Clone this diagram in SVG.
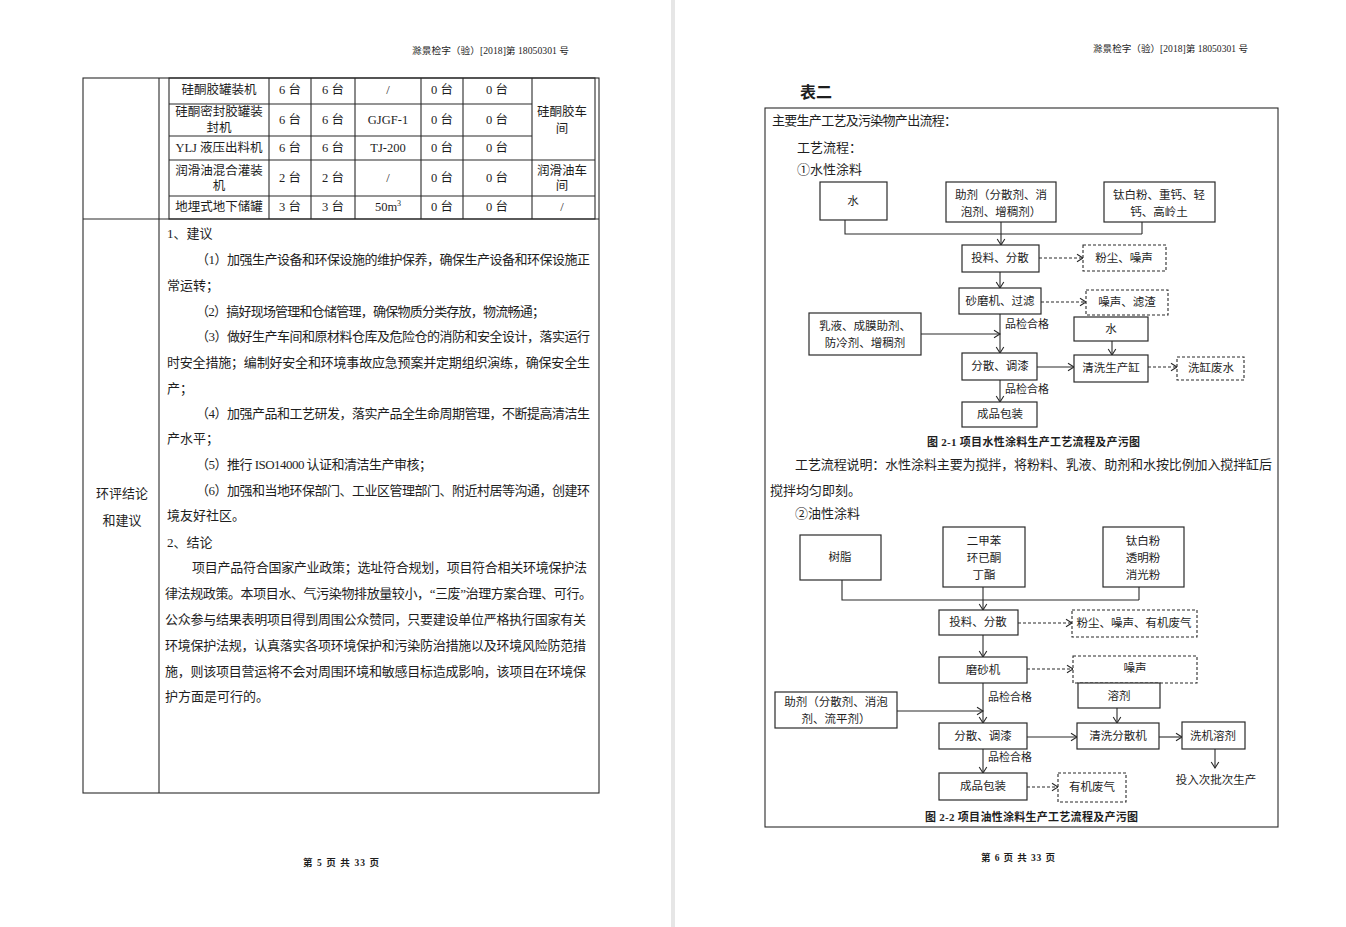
<svg xmlns="http://www.w3.org/2000/svg" width="1346" height="927" viewBox="0 0 1346 927">
<defs>
<style>
text{font-family:"Liberation Serif","Noto Sans CJK SC",serif;fill:#1e1e1e;dominant-baseline:central}
.b13{font-size:13px}
.t12{font-size:12.5px;text-anchor:middle}
.hd{font-size:9.5px}
.f{font-size:11.5px;text-anchor:middle}
.q{font-size:11px}
.cap{font-size:11px;font-weight:bold}
.ln{stroke:#2a2a2a;stroke-width:1.1;fill:none}
.box{stroke:#2a2a2a;stroke-width:1.2;fill:#fff}
.dbox{stroke:#2a2a2a;stroke-width:1.1;fill:#fff;stroke-dasharray:3,2}
.c{stroke:#2a2a2a;stroke-width:1.1;fill:none;marker-end:url(#ah)}
.d{stroke:#2a2a2a;stroke-width:1.1;fill:none;stroke-dasharray:3,2;marker-end:url(#ah)}
</style>
<marker id="ah" markerUnits="userSpaceOnUse" markerWidth="10" markerHeight="10" refX="7" refY="5" orient="auto" overflow="visible">
<path d="M1,1.2 L7,5 L1,8.8" fill="none" stroke="#2a2a2a" stroke-width="1.1"/>
</marker>
</defs>
<rect x="0" y="0" width="1346" height="927" fill="#fff"/>
<rect x="671" y="0" width="4" height="927" fill="#e6e6e6"/>

<g id="page5">
<text class="hd" x="412" y="51" textLength="157" lengthAdjust="spacingAndGlyphs">滁景检字（验）[2018]第 18050301 号</text>
<g id="table5" class="ln">
<rect x="83" y="78" width="516" height="715"/>
<line x1="159" y1="78" x2="159" y2="793"/>
<line x1="83" y1="219" x2="599" y2="219"/>
<rect x="169" y="78" width="426" height="141"/>
<line x1="269" y1="78" x2="269" y2="219"/>
<line x1="311" y1="78" x2="311" y2="219"/>
<line x1="355" y1="78" x2="355" y2="219"/>
<line x1="421" y1="78" x2="421" y2="219"/>
<line x1="463" y1="78" x2="463" y2="219"/>
<line x1="532" y1="78" x2="532" y2="219"/>
<line x1="169" y1="104" x2="532" y2="104"/>
<line x1="169" y1="136" x2="532" y2="136"/>
<line x1="169" y1="160" x2="595" y2="160"/>
<line x1="169" y1="196" x2="595" y2="196"/>
</g>
<g id="table5text">
<text class="t12" x="219" y="90">硅酮胶罐装机</text>
<text class="t12" x="290" y="90">6 台</text><text class="t12" x="333" y="90">6 台</text><text class="t12" x="388" y="90">/</text><text class="t12" x="442" y="90">0 台</text><text class="t12" x="497" y="90">0 台</text>
<text class="t12" x="219" y="112">硅酮密封胶罐装</text><text class="t12" x="219" y="128">封机</text>
<text class="t12" x="290" y="120">6 台</text><text class="t12" x="333" y="120">6 台</text><text class="t12" x="388" y="120">GJGF-1</text><text class="t12" x="442" y="120">0 台</text><text class="t12" x="497" y="120">0 台</text>
<text class="t12" x="562" y="112">硅酮胶车</text><text class="t12" x="562" y="129">间</text>
<text class="t12" x="219" y="148">YLJ 液压出料机</text>
<text class="t12" x="290" y="148">6 台</text><text class="t12" x="333" y="148">6 台</text><text class="t12" x="388" y="148">TJ-200</text><text class="t12" x="442" y="148">0 台</text><text class="t12" x="497" y="148">0 台</text>
<text class="t12" x="219" y="171">润滑油混合灌装</text><text class="t12" x="219" y="186">机</text>
<text class="t12" x="290" y="178">2 台</text><text class="t12" x="333" y="178">2 台</text><text class="t12" x="388" y="178">/</text><text class="t12" x="442" y="178">0 台</text><text class="t12" x="497" y="178">0 台</text>
<text class="t12" x="562" y="171">润滑油车</text><text class="t12" x="562" y="186">间</text>
<text class="t12" x="219" y="207">地埋式地下储罐</text>
<text class="t12" x="290" y="207">3 台</text><text class="t12" x="333" y="207">3 台</text><text class="t12" x="388" y="207">50m<tspan font-size="8" dy="-4">3</tspan></text><text class="t12" x="442" y="207">0 台</text><text class="t12" x="497" y="207">0 台</text><text class="t12" x="562" y="207">/</text>
</g>
<g id="conclusion">
<text class="b13" x="122" y="493" text-anchor="middle">环评结论</text>
<text class="b13" x="122" y="520" text-anchor="middle">和建议</text>
<text class="b13" x="167" y="233">1、建议</text>
<text class="b13" x="196" y="259" textLength="394" lengthAdjust="spacing">（1）加强生产设备和环保设施的维护保养，确保生产设备和环保设施正</text>
<text class="b13" x="167" y="285">常运转；</text>
<text class="b13" x="196" y="311" textLength="349" lengthAdjust="spacing">（2）搞好现场管理和仓储管理，确保物质分类存放，物流畅通；</text>
<text class="b13" x="196" y="336" textLength="394" lengthAdjust="spacing">（3）做好生产车间和原材料仓库及危险仓的消防和安全设计，落实运行</text>
<text class="b13" x="167" y="362" textLength="423" lengthAdjust="spacing">时安全措施；编制好安全和环境事故应急预案并定期组织演练，确保安全生</text>
<text class="b13" x="167" y="388">产；</text>
<text class="b13" x="196" y="413" textLength="394" lengthAdjust="spacing">（4）加强产品和工艺研发，落实产品全生命周期管理，不断提高清洁生</text>
<text class="b13" x="167" y="438">产水平；</text>
<text class="b13" x="196" y="464" textLength="236" lengthAdjust="spacing">（5）推行 ISO14000 认证和清洁生产审核；</text>
<text class="b13" x="196" y="490" textLength="394" lengthAdjust="spacing">（6）加强和当地环保部门、工业区管理部门、附近村居等沟通，创建环</text>
<text class="b13" x="167" y="515">境友好社区。</text>
<text class="b13" x="167" y="542">2、结论</text>
<text class="b13" x="192" y="567" textLength="395" lengthAdjust="spacing">项目产品符合国家产业政策；选址符合规划，项目符合相关环境保护法</text>
<text class="b13" x="165" y="593" textLength="427" lengthAdjust="spacing">律法规政策。本项目水、气污染物排放量较小，“三废”治理方案合理、可行。</text>
<text class="b13" x="165" y="619" textLength="421" lengthAdjust="spacing">公众参与结果表明项目得到周围公众赞同，只要建设单位严格执行国家有关</text>
<text class="b13" x="165" y="645" textLength="421" lengthAdjust="spacing">环境保护法规，认真落实各项环境保护和污染防治措施以及环境风险防范措</text>
<text class="b13" x="165" y="671" textLength="421" lengthAdjust="spacing">施，则该项目营运将不会对周围环境和敏感目标造成影响，该项目在环境保</text>
<text class="b13" x="165" y="696">护方面是可行的。</text>
</g>
<text class="hd" x="303" y="863" textLength="76" lengthAdjust="spacing" font-weight="bold">第 5 页 共 33 页</text>
</g>

<g id="page6">
<text class="hd" x="1093" y="49" textLength="155" lengthAdjust="spacingAndGlyphs">滁景检字（验）[2018]第 18050301 号</text>
<text x="800" y="92" font-size="16" font-weight="bold">表二</text>
<rect class="ln" x="765" y="108" width="513" height="719"/>
<text class="b13" x="772" y="120" textLength="185" lengthAdjust="spacing">主要生产工艺及污染物产出流程：</text>
<text class="b13" x="797" y="147">工艺流程：</text>
<text class="b13" x="797" y="169">①水性涂料</text>

<g id="connectors">
<polyline class="ln" points="845,220 845,234 1142,234"/>
<line class="ln" x1="1142" y1="222" x2="1142" y2="234"/>
<line class="c" x1="1001" y1="222" x2="1001" y2="245"/>
<line class="d" x1="1039" y1="258" x2="1083" y2="258"/>
<line class="c" x1="1000" y1="272" x2="1000" y2="288"/>
<line class="d" x1="1041" y1="302" x2="1086" y2="302"/>
<line class="c" x1="1000" y1="314" x2="1000" y2="353"/>
<line class="c" x1="921" y1="334" x2="1000" y2="334"/>
<line class="c" x1="1112" y1="341" x2="1112" y2="355"/>
<line class="c" x1="1037" y1="367" x2="1074" y2="367"/>
<line class="d" x1="1148" y1="367" x2="1177" y2="367"/>
<line class="c" x1="1000" y1="380" x2="1000" y2="402"/>

<polyline class="ln" points="842,580 842,600 1139,600"/>
<line class="ln" x1="1139" y1="587" x2="1139" y2="600"/>
<line class="c" x1="983" y1="587" x2="983" y2="610"/>
<line class="d" x1="1018" y1="623" x2="1072" y2="623"/>
<line class="c" x1="983" y1="635" x2="983" y2="657"/>
<line class="d" x1="1027" y1="669" x2="1073" y2="669"/>
<line class="c" x1="1117" y1="708" x2="1117" y2="723"/>
<line class="c" x1="897" y1="711" x2="983" y2="711"/>
<line class="c" x1="983" y1="683" x2="983" y2="723"/>
<line class="c" x1="1027" y1="737" x2="1077" y2="737"/>
<line class="c" x1="1159" y1="737" x2="1182" y2="737"/>
<line class="c" x1="1215" y1="749" x2="1215" y2="768"/>
<line class="c" x1="983" y1="749" x2="983" y2="773"/>
<line class="d" x1="1027" y1="787" x2="1058" y2="787"/>
</g>

<g id="n-water"><rect class="box" x="820" y="182" width="67" height="38"/><text class="f" x="853" y="201">水</text></g>
<g id="n-additive1"><rect class="box" x="946" y="182" width="110" height="40"/><text class="f" x="1001" y="195">助剂（分散剂、消</text><text class="f" x="1001" y="212">泡剂、增稠剂）</text></g>
<g id="n-powder1"><rect class="box" x="1104" y="182" width="111" height="40"/><text class="f" x="1159" y="195">钛白粉、重钙、轻</text><text class="f" x="1159" y="212">钙、高岭土</text></g>
<g id="n-feed1"><rect class="box" x="962" y="245" width="77" height="27"/><text class="f" x="1000" y="258">投料、分散</text></g>
<g id="n-dust1"><rect class="dbox" x="1083" y="245" width="83" height="26"/><text class="f" x="1124" y="258">粉尘、噪声</text></g>
<g id="n-mill1"><rect class="box" x="959" y="288" width="82" height="26"/><text class="f" x="1000" y="301">砂磨机、过滤</text></g>
<g id="n-noise1"><rect class="dbox" x="1086" y="290" width="82" height="25"/><text class="f" x="1127" y="302">噪声、滤渣</text></g>
<g id="n-emulsion"><rect class="box" x="809" y="313" width="112" height="42"/><text class="f" x="865" y="326">乳液、成膜助剂、</text><text class="f" x="865" y="343">防冷剂、增稠剂</text></g>
<text class="q" x="1005" y="324">品检合格</text>
<g id="n-water2"><rect class="box" x="1074" y="317" width="74" height="24"/><text class="f" x="1111" y="329">水</text></g>
<g id="n-disperse1"><rect class="box" x="962" y="353" width="75" height="27"/><text class="f" x="1000" y="366">分散、调漆</text></g>
<g id="n-clean1"><rect class="box" x="1074" y="355" width="74" height="27"/><text class="f" x="1111" y="368">清洗生产缸</text></g>
<g id="n-waste1"><rect class="dbox" x="1177" y="357" width="67" height="23"/><text class="f" x="1211" y="368">洗缸废水</text></g>
<text class="q" x="1005" y="389">品检合格</text>
<g id="n-pack1"><rect class="box" x="962" y="402" width="75" height="25"/><text class="f" x="1000" y="414">成品包装</text></g>
<text class="cap" x="927" y="442" textLength="213" lengthAdjust="spacing">图 2-1 项目水性涂料生产工艺流程及产污图</text>
<text class="b13" x="795" y="464" textLength="477" lengthAdjust="spacing">工艺流程说明：水性涂料主要为搅拌，将粉料、乳液、助剂和水按比例加入搅拌缸后</text>
<text class="b13" x="770" y="490">搅拌均匀即刻。</text>
<text class="b13" x="795" y="513">②油性涂料</text>

<g id="n-resin"><rect class="box" x="800" y="535" width="81" height="45"/><text class="f" x="840" y="557">树脂</text></g>
<g id="n-solvents"><rect class="box" x="943" y="527" width="82" height="60"/><text class="f" x="984" y="541">二甲苯</text><text class="f" x="984" y="558">环已酮</text><text class="f" x="984" y="575">丁酯</text></g>
<g id="n-powder2"><rect class="box" x="1103" y="527" width="81" height="60"/><text class="f" x="1143" y="541">钛白粉</text><text class="f" x="1143" y="558">透明粉</text><text class="f" x="1143" y="575">消光粉</text></g>
<g id="n-feed2"><rect class="box" x="939" y="610" width="79" height="25"/><text class="f" x="978" y="622">投料、分散</text></g>
<g id="n-dust2"><rect class="dbox" x="1072" y="610" width="125" height="27"/><text class="f" x="1134" y="623">粉尘、噪声、有机废气</text></g>
<g id="n-mill2"><rect class="box" x="939" y="657" width="88" height="26"/><text class="f" x="983" y="670">磨砂机</text></g>
<g id="n-noise2"><rect class="dbox" x="1073" y="656" width="124" height="27"/><text class="f" x="1135" y="668">噪声</text></g>
<g id="n-solvent"><rect class="box" x="1078" y="683" width="82" height="25"/><text class="f" x="1119" y="696">溶剂</text></g>
<g id="n-additive2"><rect class="box" x="775" y="692" width="122" height="36"/><text class="f" x="836" y="702">助剂（分散剂、消泡</text><text class="f" x="836" y="719">剂、流平剂）</text></g>
<text class="q" x="988" y="697">品检合格</text>
<g id="n-disperse2"><rect class="box" x="939" y="723" width="88" height="26"/><text class="f" x="983" y="736">分散、调漆</text></g>
<g id="n-clean2"><rect class="box" x="1077" y="723" width="82" height="26"/><text class="f" x="1118" y="736">清洗分散机</text></g>
<g id="n-washsolv"><rect class="box" x="1182" y="722" width="63" height="27"/><text class="f" x="1213" y="736">洗机溶剂</text></g>
<text class="f" x="1216" y="780">投入次批次生产</text>
<text class="q" x="988" y="757">品检合格</text>
<g id="n-pack2"><rect class="box" x="939" y="773" width="88" height="27"/><text class="f" x="983" y="786">成品包装</text></g>
<g id="n-voc"><rect class="dbox" x="1058" y="773" width="68" height="29"/><text class="f" x="1092" y="787">有机废气</text></g>
<text class="cap" x="925" y="817" textLength="213" lengthAdjust="spacing">图 2-2 项目油性涂料生产工艺流程及产污图</text>
<text class="hd" x="981" y="858" textLength="74" lengthAdjust="spacing" font-weight="bold">第 6 页 共 33 页</text>
</g>
</svg>
